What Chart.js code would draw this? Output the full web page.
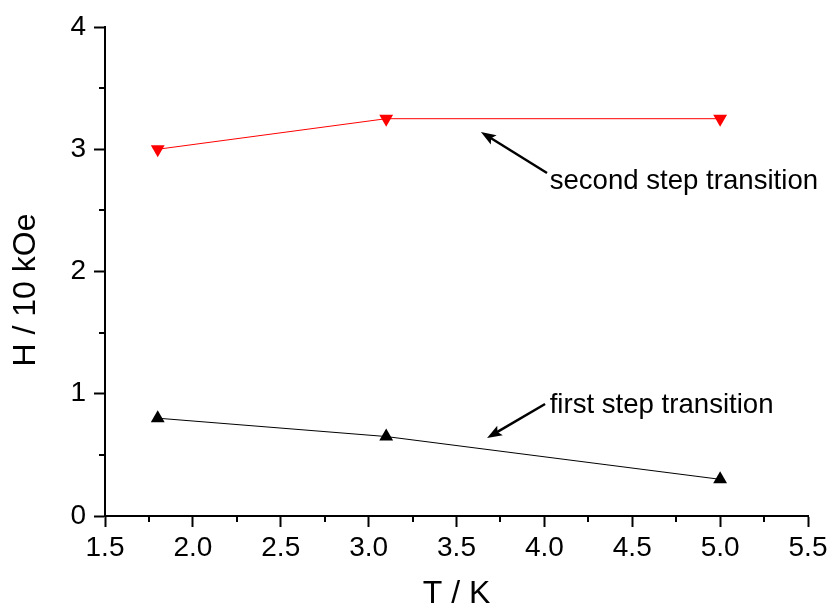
<!DOCTYPE html>
<html>
<head>
<meta charset="utf-8">
<script src="https://cdn.jsdelivr.net/npm/chart.js@4.4.1/dist/chart.umd.min.js"></script>
<style>
  html, body { margin: 0; padding: 0; background: #fff; }
  #wrap { width: 832px; height: 610px; }
</style>
</head>
<body>
<div id="wrap"><canvas id="c" width="832" height="610"></canvas></div>
<script>
// ---- data ----
const temperatures = [1.8, 3.1, 5.0];
const firstStepField = [0.8, 0.65, 0.3];
const secondStepField = [3.0, 3.25, 3.25];
const xTicks = [1.5, 2.0, 2.5, 3.0, 3.5, 4.0, 4.5, 5.0, 5.5];
const yTicks = [0, 1, 2, 3, 4];
const seriesNames = ['first step transition', 'second step transition'];
const xTitle = 'T / K';
const yTitle = 'H / 10 kOe';

const FONT = '"Liberation Sans", Arial, Helvetica, sans-serif';

// annotations (data coordinates)
const annotations = [
  { text: seriesNames[1], tx: 4.03, ty: 2.675, from: [4.015, 2.806], to: [3.639, 3.141] },
  { text: seriesNames[0], tx: 4.03, ty: 0.845, from: [4.004, 0.916], to: [3.674, 0.638] }
];

const minorTicks = {
  id: 'minorTicks',
  afterDraw(chart) {
    const ctx = chart.ctx;
    const xs = chart.scales.x, ys = chart.scales.y;
    ctx.save();
    ctx.strokeStyle = '#000';
    ctx.lineWidth = 2;
    ctx.beginPath();
    for (let i = 0; i < xTicks.length - 1; i++) {
      const v = (xTicks[i] + xTicks[i + 1]) / 2;
      const px = Math.round(xs.getPixelForValue(v));
      ctx.moveTo(px, chart.chartArea.bottom);
      ctx.lineTo(px, chart.chartArea.bottom + 6);
    }
    for (let i = 0; i < yTicks.length - 1; i++) {
      const v = (yTicks[i] + yTicks[i + 1]) / 2;
      const py = Math.round(ys.getPixelForValue(v));
      ctx.moveTo(chart.chartArea.left, py);
      ctx.lineTo(chart.chartArea.left - 6, py);
    }
    ctx.stroke();

    // axis titles
    ctx.fillStyle = '#000';
    ctx.font = '32px ' + FONT;
    ctx.textAlign = 'center';
    ctx.textBaseline = 'alphabetic';
    ctx.fillText(xTitle, (chart.chartArea.left + chart.chartArea.right) / 2, 603);
    ctx.translate(35, 290);
    ctx.rotate(-Math.PI / 2);
    ctx.fillText(yTitle, 0, 0);
    ctx.restore();
  }
};

const annot = {
  id: 'annot',
  afterDatasetsDraw(chart) {
    const ctx = chart.ctx;
    const xs = chart.scales.x, ys = chart.scales.y;
    ctx.save();
    annotations.forEach(a => {
      const x1 = xs.getPixelForValue(a.from[0]), y1 = ys.getPixelForValue(a.from[1]);
      const x2 = xs.getPixelForValue(a.to[0]), y2 = ys.getPixelForValue(a.to[1]);
      const ang = Math.atan2(y2 - y1, x2 - x1);
      const hl = 15, hw = 5.5;
      const bx = x2 - hl * Math.cos(ang), by = y2 - hl * Math.sin(ang);
      ctx.strokeStyle = '#000';
      ctx.fillStyle = '#000';
      ctx.lineWidth = 2.5;
      ctx.beginPath();
      ctx.moveTo(x1, y1);
      ctx.lineTo(bx + 4 * Math.cos(ang), by + 4 * Math.sin(ang));
      ctx.stroke();
      ctx.beginPath();
      ctx.moveTo(x2, y2);
      ctx.lineTo(bx + hw * Math.sin(ang), by - hw * Math.cos(ang));
      ctx.lineTo(bx + 3 * Math.cos(ang), by + 3 * Math.sin(ang));
      ctx.lineTo(bx - hw * Math.sin(ang), by + hw * Math.cos(ang));
      ctx.closePath();
      ctx.fill();
      ctx.font = '27.6px ' + FONT;
      ctx.textBaseline = 'alphabetic';
      ctx.textAlign = 'left';
      ctx.fillText(a.text, xs.getPixelForValue(a.tx), ys.getPixelForValue(a.ty));
    });
    ctx.restore();
  }
};

new Chart(document.getElementById('c'), {
  type: 'scatter',
  data: {
    datasets: [
      {
        label: seriesNames[0],
        data: temperatures.map((t, i) => ({ x: t, y: firstStepField[i] })),
        showLine: true,
        borderColor: '#000',
        backgroundColor: '#000',
        borderWidth: 1,
        pointStyle: 'triangle',
        pointRadius: 8,
        pointBorderWidth: 0,
        pointBackgroundColor: '#000'
      },
      {
        label: seriesNames[1],
        data: temperatures.map((t, i) => ({ x: t, y: secondStepField[i] })),
        showLine: true,
        borderColor: '#ff0000',
        backgroundColor: '#ff0000',
        borderWidth: 1,
        pointStyle: 'triangle',
        rotation: 180,
        pointRotation: 180,
        pointRadius: 8,
        pointBorderWidth: 0,
        pointBackgroundColor: '#ff0000'
      }
    ]
  },
  options: {
    responsive: false,
    animation: false,
    layout: { padding: { top: 27, right: 24, left: 0, bottom: 0 } },
    plugins: { legend: { display: false }, tooltip: { enabled: false } },
    scales: {
      x: {
        type: 'linear',
        min: xTicks[0],
        max: xTicks[xTicks.length - 1],
        afterFit: s => { s.height = 94; },
        afterBuildTicks: s => { s.ticks = xTicks.map(v => ({ value: v })); },
        ticks: {
          color: '#000',
          font: { family: FONT, size: 28 },
          padding: 4,
          maxRotation: 0,
          autoSkip: false,
          callback: v => Number(v).toFixed(1)
        },
        grid: { drawOnChartArea: false, drawTicks: true, tickLength: 11, tickWidth: 2, tickColor: '#000' },
        border: { display: true, color: '#000', width: 2 },
        title: { display: false }
      },
      y: {
        type: 'linear',
        min: yTicks[0],
        max: yTicks[yTicks.length - 1],
        afterFit: s => { s.width = 105; },
        afterBuildTicks: s => { s.ticks = yTicks.map(v => ({ value: v })); },
        ticks: {
          color: '#000',
          font: { family: FONT, size: 28 },
          padding: 8,
          autoSkip: false,
          callback: v => String(v)
        },
        grid: { drawOnChartArea: false, drawTicks: true, tickLength: 11, tickWidth: 2, tickColor: '#000' },
        border: { display: true, color: '#000', width: 2 },
        title: { display: false }
      }
    }
  },
  plugins: [minorTicks, annot]
});
</script>
</body>
</html>
